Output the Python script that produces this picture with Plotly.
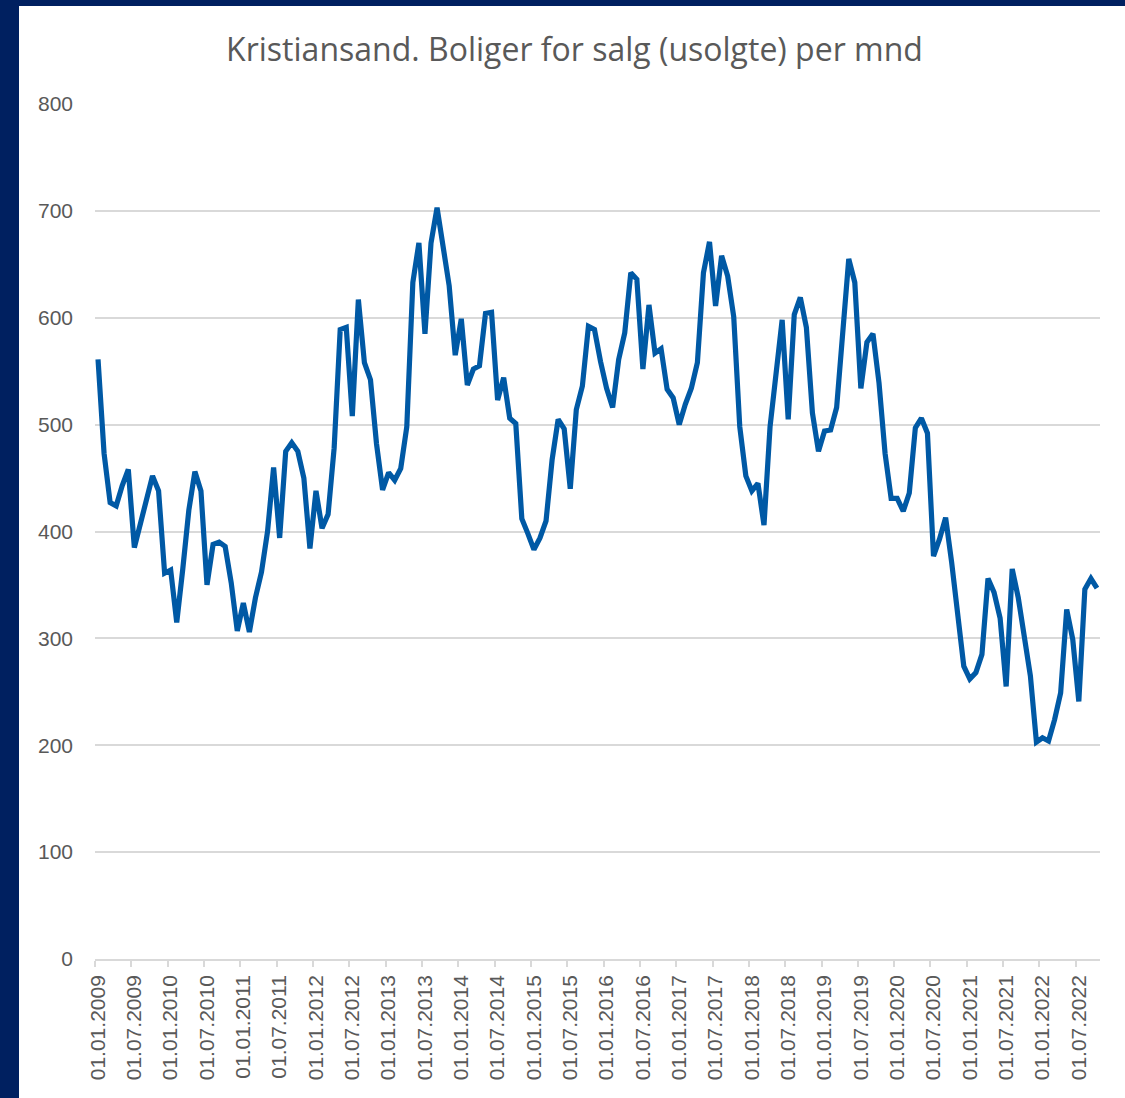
import pandas as pd
import plotly.graph_objects as go

# monthly counts, Jan 2009 - Oct 2022
months = pd.date_range("2009-01-01", periods=166, freq="MS").strftime("%d.%m.%Y").to_list()
unsold = [
    561, 473, 427, 424, 443, 458, 385, 408, 430, 452, 438, 361,
    364, 315, 365, 420, 456, 438, 350, 388, 390, 386, 352, 307,
    333, 306, 338, 362, 400, 460, 394, 475, 483, 475, 450, 384,
    438, 403, 416, 478, 589, 591, 508, 617, 558, 542, 482, 439,
    455, 448, 459, 498, 633, 670, 585, 670, 703, 669, 630, 565,
    599, 537, 552, 555, 604, 605, 523, 544, 506, 501, 412, 398,
    383, 394, 410, 467, 505, 496, 440, 514, 536, 592, 589, 559,
    534, 516, 561, 586, 642, 636, 552, 612, 567, 571, 533, 525,
    500, 519, 534, 558, 642, 671, 611, 658, 639, 601, 498, 452,
    438, 445, 406, 498, 545, 598, 505, 603, 619, 591, 511, 475,
    494, 495, 516, 586, 655, 633, 534, 577, 585, 539, 473, 431,
    431, 419, 436, 497, 506, 492, 377, 393, 413, 371, 324, 274,
    262, 268, 285, 356, 343, 319, 255, 365, 338, 302, 265, 203,
    207, 204, 224, 249, 327, 299, 241, 346, 356, 347,
]
y_ticks = [0, 100, 200, 300, 400, 500, 600, 700, 800]

title = "Kristiansand. Boliger for salg (usolgte) per mnd"
W, H = 1125, 1098
L, R, T, B = 95, 25, 104, 139
pw, ph = W - L - R, H - T - B
grey = "#595959"
navy = "#002060"

fig = go.Figure(go.Scatter(x=months, y=unsold, mode="lines",
                           line=dict(color="#0059A5", width=5.2)))

fig.update_layout(
    width=W, height=H,
    margin=dict(l=L, r=R, t=T, b=B),
    paper_bgcolor="white", plot_bgcolor="white",
    showlegend=False,
    font=dict(family="Liberation Sans, Arial", color=grey, size=21),
    title=dict(text=title, x=(222 + 927) / 2 / W, xanchor="center", y=1 - 50 / H, yanchor="middle",
               font=dict(family="Open Sans", size=32, color=grey)),
)

fig.update_xaxes(
    type="category", range=[-0.5, len(months) - 0.5],
    tickmode="linear", tick0=0, dtick=6, tickson="boundaries",
    ticks="outside", ticklen=6, tickcolor="#d9d9d9", tickwidth=1.5,
    tickangle=-90, ticklabelstandoff=6,
    showgrid=False, showline=True, linecolor="#d9d9d9", linewidth=1.5,
    tickfont=dict(size=21, color=grey),
)
fig.update_yaxes(
    range=[0, 800], tickvals=y_ticks, showgrid=True, gridcolor="#d9d9d9", gridwidth=1.5,
    zeroline=False, showline=False, ticks="", ticklabelstandoff=21,
    tickfont=dict(size=21, color=grey),
)

# dark slide border on the left and top
fig.add_shape(type="rect", xref="paper", yref="paper",
              x0=-L / pw - 0.01, x1=(19 - L) / pw, y0=-B / ph - 0.01, y1=1 + T / ph + 0.01,
              fillcolor=navy, line_width=0, layer="above")
fig.add_shape(type="rect", xref="paper", yref="paper",
              x0=-L / pw - 0.01, x1=1 + R / pw + 0.01, y0=1 + (T - 6) / ph, y1=1 + T / ph + 0.01,
              fillcolor=navy, line_width=0, layer="above")

fig.write_html("out.html", config={"displayModeBar": False},
               post_script="document.body.style.margin='0';")
